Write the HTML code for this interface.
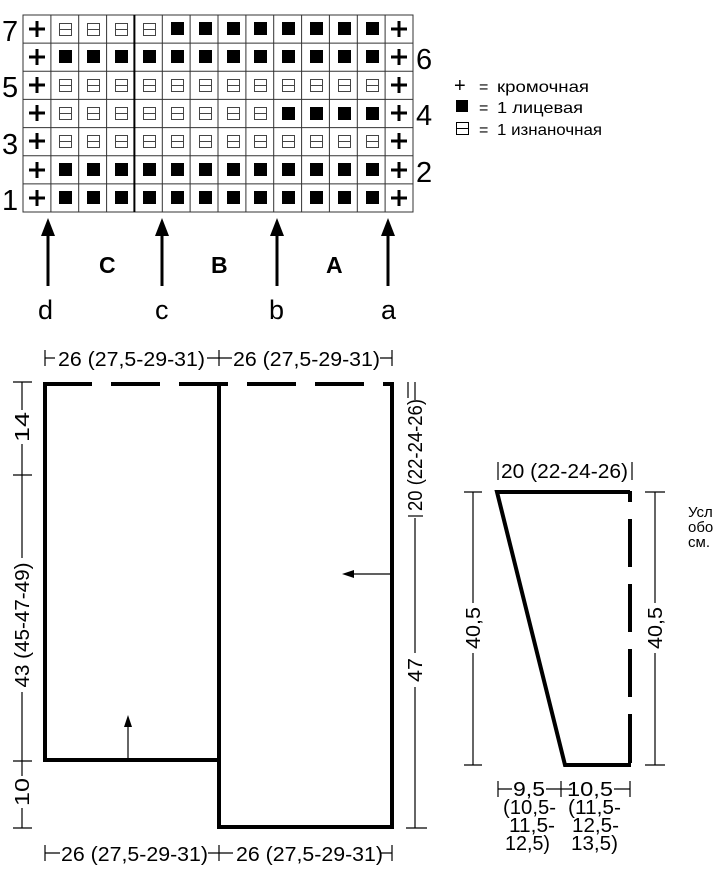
<!DOCTYPE html>
<html><head><meta charset="utf-8"><style>
html,body{margin:0;padding:0;background:#fff}
svg{display:block}
text{font-family:"Liberation Sans",sans-serif;fill:#000}
</style></head><body>
<svg width="720" height="879" viewBox="0 0 720 879" xmlns="http://www.w3.org/2000/svg">
<g stroke="#333" stroke-width="1" fill="none">
<rect x="23" y="15" width="390" height="197"/>
<path d="M50.9 15V212M78.7 15V212M106.6 15V212M134.4 15V212M162.3 15V212M190.1 15V212M218 15V212M245.9 15V212M273.7 15V212M301.6 15V212M329.4 15V212M357.3 15V212M385.1 15V212"/>
<path d="M23 43.1H413M23 71.3H413M23 99.4H413M23 127.6H413M23 155.7H413M23 183.9H413"/>
<path d="M134.4 15V212" stroke="#000" stroke-width="2"/>
</g>
<g font-size="29">
<text x="2" y="41">7</text><text x="2" y="97">5</text><text x="2" y="154">3</text><text x="2" y="210">1</text>
<text x="416" y="69">6</text><text x="416" y="125">4</text><text x="416" y="182">2</text>
</g>
<g stroke="#000" stroke-width="3">
<path d="M29 29H45M37 21V37M29 57H45M37 49V65M29 85H45M37 77V93M29 113H45M37 105V121M29 141H45M37 133V149M29 170H45M37 162V178M29 198H45M37 190V206"/>
<path d="M391 29H407M399 21V37M391 57H407M399 49V65M391 85H407M399 77V93M391 113H407M399 105V121M391 141H407M399 133V149M391 170H407M399 162V178M391 198H407M399 190V206"/>
</g>
<g fill="#000">
<rect x="171" y="22" width="13" height="13"/><rect x="199" y="22" width="13" height="13"/><rect x="227" y="22" width="13" height="13"/><rect x="254" y="22" width="13" height="13"/><rect x="282" y="22" width="13" height="13"/><rect x="310" y="22" width="13" height="13"/><rect x="338" y="22" width="13" height="13"/><rect x="366" y="22" width="13" height="13"/>
<rect x="59" y="50" width="13" height="13"/><rect x="87" y="50" width="13" height="13"/><rect x="115" y="50" width="13" height="13"/><rect x="143" y="50" width="13" height="13"/><rect x="171" y="50" width="13" height="13"/><rect x="199" y="50" width="13" height="13"/><rect x="227" y="50" width="13" height="13"/><rect x="254" y="50" width="13" height="13"/><rect x="282" y="50" width="13" height="13"/><rect x="310" y="50" width="13" height="13"/><rect x="338" y="50" width="13" height="13"/><rect x="366" y="50" width="13" height="13"/>
<rect x="282" y="107" width="13" height="13"/><rect x="310" y="107" width="13" height="13"/><rect x="338" y="107" width="13" height="13"/><rect x="366" y="107" width="13" height="13"/>
<rect x="59" y="163" width="13" height="13"/><rect x="87" y="163" width="13" height="13"/><rect x="115" y="163" width="13" height="13"/><rect x="143" y="163" width="13" height="13"/><rect x="171" y="163" width="13" height="13"/><rect x="199" y="163" width="13" height="13"/><rect x="227" y="163" width="13" height="13"/><rect x="254" y="163" width="13" height="13"/><rect x="282" y="163" width="13" height="13"/><rect x="310" y="163" width="13" height="13"/><rect x="338" y="163" width="13" height="13"/><rect x="366" y="163" width="13" height="13"/>
<rect x="59" y="191" width="13" height="13"/><rect x="87" y="191" width="13" height="13"/><rect x="115" y="191" width="13" height="13"/><rect x="143" y="191" width="13" height="13"/><rect x="171" y="191" width="13" height="13"/><rect x="199" y="191" width="13" height="13"/><rect x="227" y="191" width="13" height="13"/><rect x="254" y="191" width="13" height="13"/><rect x="282" y="191" width="13" height="13"/><rect x="310" y="191" width="13" height="13"/><rect x="338" y="191" width="13" height="13"/><rect x="366" y="191" width="13" height="13"/>
</g>
<g fill="none" stroke="#444" stroke-width="1">
<path d="M59.5 23.5h12v12h-12zM59.5 29.5h12M87.5 23.5h12v12h-12zM87.5 29.5h12M115.5 23.5h12v12h-12zM115.5 29.5h12M143.5 23.5h12v12h-12zM143.5 29.5h12"/>
<path d="M59.5 79.5h12v12h-12zM59.5 85.5h12M87.5 79.5h12v12h-12zM87.5 85.5h12M115.5 79.5h12v12h-12zM115.5 85.5h12M143.5 79.5h12v12h-12zM143.5 85.5h12M171.5 79.5h12v12h-12zM171.5 85.5h12M199.5 79.5h12v12h-12zM199.5 85.5h12M227.5 79.5h12v12h-12zM227.5 85.5h12M254.5 79.5h12v12h-12zM254.5 85.5h12M282.5 79.5h12v12h-12zM282.5 85.5h12M310.5 79.5h12v12h-12zM310.5 85.5h12M338.5 79.5h12v12h-12zM338.5 85.5h12M366.5 79.5h12v12h-12zM366.5 85.5h12"/>
<path d="M59.5 135.5h12v12h-12zM59.5 141.5h12M87.5 135.5h12v12h-12zM87.5 141.5h12M115.5 135.5h12v12h-12zM115.5 141.5h12M143.5 135.5h12v12h-12zM143.5 141.5h12M171.5 135.5h12v12h-12zM171.5 141.5h12M199.5 135.5h12v12h-12zM199.5 141.5h12M227.5 135.5h12v12h-12zM227.5 141.5h12M254.5 135.5h12v12h-12zM254.5 141.5h12M282.5 135.5h12v12h-12zM282.5 141.5h12M310.5 135.5h12v12h-12zM310.5 141.5h12M338.5 135.5h12v12h-12zM338.5 141.5h12M366.5 135.5h12v12h-12zM366.5 141.5h12"/>
<path d="M59.5 107.5h12v12h-12zM59.5 113.5h12M87.5 107.5h12v12h-12zM87.5 113.5h12M115.5 107.5h12v12h-12zM115.5 113.5h12M143.5 107.5h12v12h-12zM143.5 113.5h12M171.5 107.5h12v12h-12zM171.5 113.5h12M199.5 107.5h12v12h-12zM199.5 113.5h12M227.5 107.5h12v12h-12zM227.5 113.5h12M254.5 107.5h12v12h-12zM254.5 113.5h12"/>
</g>
<g stroke="#000" stroke-width="3"><path d="M48 232V286M162 232V286M277 232V286M388 232V286"/></g>
<g fill="#000"><path d="M48 218l-7 18h14zM162 218l-7 18h14zM277 218l-7 18h14zM388 218l-7 18h14z"/></g>
<g font-size="23" font-weight="bold"><text x="99" y="273">C</text><text x="211" y="273">B</text><text x="326" y="273">A</text></g>
<g font-size="27"><text x="38" y="319">d</text><text x="155" y="319">c</text><text x="269" y="319">b</text><text x="381" y="319">a</text></g>
<g font-size="16"><text x="454" y="92" font-size="20">+</text>
<text x="479" y="92">=</text><text x="497" y="92" textLength="92" lengthAdjust="spacingAndGlyphs">кромочная</text>
<text x="479" y="113">=</text><text x="497" y="113" textLength="86" lengthAdjust="spacingAndGlyphs">1 лицевая</text>
<text x="479" y="135">=</text><text x="497" y="135" textLength="105" lengthAdjust="spacingAndGlyphs">1 изнаночная</text></g>
<rect x="456" y="100" width="12" height="12" fill="#000"/>
<path d="M456.5 122.5h12v12h-12zM456.5 128.5h12" fill="none" stroke="#000"/>
<g stroke="#000" stroke-width="4" fill="none">
<path d="M45 384V760H219M219 382V827H392V382"/>
<path d="M43 384H392" stroke-dasharray="49 19"/>
</g>
<g stroke="#000" stroke-width="1.2" fill="none">
<path d="M22 382V828M13 382H32M13 475H32M13 761H32M13 828H32"/>
<path d="M415 382V828M406 828H427M408 382V398"/>
<path d="M45 350V366M45 358H55M207 358H232M219 350V366M380 358H392M392 350V366"/>
<path d="M45 845V861M45 853H60M208 853H233M219 845V861M380 853H392M392 845V861"/>
<path d="M128 760V725M392 574H352"/>
</g>
<path d="M128 715l-4 12h8zM342 574l12 -4v8z" fill="#000"/>
<g font-size="20">
<text x="58" y="366" textLength="147" lengthAdjust="spacingAndGlyphs">26 (27,5-29-31)</text><text x="233" y="366" textLength="147" lengthAdjust="spacingAndGlyphs">26 (27,5-29-31)</text>
<text x="61" y="861" textLength="147" lengthAdjust="spacingAndGlyphs">26 (27,5-29-31)</text><text x="236" y="861" textLength="147" lengthAdjust="spacingAndGlyphs">26 (27,5-29-31)</text>
<rect x="12" y="410" width="20" height="34" fill="#fff"/>
<text transform="translate(29,427) rotate(-90)" text-anchor="middle" textLength="30" lengthAdjust="spacingAndGlyphs">14</text>
<rect x="12" y="558" width="20" height="134" fill="#fff"/>
<text transform="translate(29,625) rotate(-90)" text-anchor="middle" textLength="125" lengthAdjust="spacingAndGlyphs">43 (45-47-49)</text>
<rect x="12" y="776" width="20" height="32" fill="#fff"/>
<text transform="translate(29,792) rotate(-90)" text-anchor="middle" textLength="28" lengthAdjust="spacingAndGlyphs">10</text>
<rect x="405" y="400" width="20" height="118" fill="#fff"/>
<text transform="translate(422,455) rotate(-90)" text-anchor="middle" textLength="112" lengthAdjust="spacingAndGlyphs">20 (22-24-26)</text>
<path d="M408 516H423" stroke="#000" stroke-width="1.2"/>
<rect x="405" y="653" width="20" height="34" fill="#fff"/>
<text transform="translate(422,670) rotate(-90)" text-anchor="middle" textLength="24" lengthAdjust="spacingAndGlyphs">47</text>
</g>
<g stroke="#000" stroke-width="4" fill="none">
<path d="M630 492H497L565 765H631"/>
<path d="M630 491V767" stroke-dasharray="11 17 48 17 48 17 48 17 49"/>
</g>
<g stroke="#000" stroke-width="1.2" fill="none">
<path d="M473 492V765M464 492H482M464 765H482M655 492V765M645 492H665M645 765H665"/>
<path d="M498 462V480M632 462V480"/>
<path d="M498 781V797M498 789H512M546 789H572M561 781V797M614 789H630M630 781V797"/>
</g>
<g font-size="20">
<text x="501" y="478" textLength="127" lengthAdjust="spacingAndGlyphs">20 (22-24-26)</text>
<rect x="463" y="603" width="20" height="50" fill="#fff"/>
<text transform="translate(480,628) rotate(-90)" text-anchor="middle" textLength="42" lengthAdjust="spacingAndGlyphs">40,5</text>
<rect x="645" y="603" width="20" height="50" fill="#fff"/>
<text transform="translate(662,628) rotate(-90)" text-anchor="middle" textLength="42" lengthAdjust="spacingAndGlyphs">40,5</text>
<text x="513" y="796" textLength="32" lengthAdjust="spacingAndGlyphs">9,5</text><text x="567" y="796" textLength="46" lengthAdjust="spacingAndGlyphs">10,5</text>
<text x="503" y="814" textLength="53" lengthAdjust="spacingAndGlyphs">(10,5-</text><text x="568" y="814" textLength="53" lengthAdjust="spacingAndGlyphs">(11,5-</text>
<text x="509" y="832" textLength="46" lengthAdjust="spacingAndGlyphs">11,5-</text><text x="572" y="832" textLength="47" lengthAdjust="spacingAndGlyphs">12,5-</text>
<text x="505" y="850" textLength="45" lengthAdjust="spacingAndGlyphs">12,5)</text><text x="571" y="850" textLength="47" lengthAdjust="spacingAndGlyphs">13,5)</text>
</g>
<g font-size="15"><text x="688" y="517">Усл</text><text x="688" y="532">обо</text><text x="688" y="547">см.</text></g>
</svg>
</body></html>
